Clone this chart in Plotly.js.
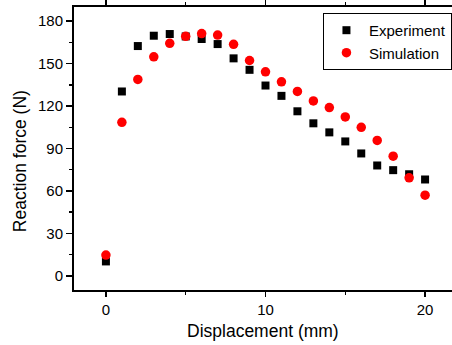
<!DOCTYPE html>
<html>
<head>
<meta charset="utf-8">
<script src="https://cdn.plot.ly/plotly-3.0.1.min.js"></script>
<style>
html,body{margin:0;padding:0;width:452px;height:345px;overflow:hidden;background:#fff;}
#chart{width:460px;height:345px;}
</style>
</head>
<body>
<div id="chart"></div>
<script>
var displacement = [0,1,2,3,4,5,6,7,8,9,10,11,12,13,14,15,16,17,18,19,20];
var experiment = [10.2,130.3,162.4,169.7,170.9,169.2,167.4,163.8,153.7,145.6,134.5,127.2,116.3,107.8,101.4,95.0,86.5,78.0,74.7,71.8,68.1];
var simulation = [14.7,108.5,138.8,154.8,164.3,169.3,171.2,170.2,163.6,152.2,144.2,137.1,130.3,123.6,118.9,112.3,105.0,95.7,84.6,69.3,57.0];
var seriesNames = ["Experiment","Simulation"];
var xTitle = "Displacement (mm)";
var yTitle = "Reaction force (N)";

var font = "Arial, 'Liberation Sans', sans-serif";

var traces = [
  {x: displacement, y: experiment, name: seriesNames[0], type: "scatter", mode: "markers",
   marker: {symbol: "square", size: 8, color: "#000000"}},
  {x: displacement, y: simulation, name: seriesNames[1], type: "scatter", mode: "markers",
   marker: {symbol: "circle", size: 9.5, color: "#ff0000"}}
];

var layout = {
  width: 460, height: 345,
  margin: {l: 74, r: 3, t: 7, b: 55},
  paper_bgcolor: "#ffffff", plot_bgcolor: "#ffffff",
  font: {family: font, size: 15, color: "#000"},
  showlegend: true,
  legend: {x: 0.650, y: 0.979, xanchor: "left", yanchor: "top",
           bordercolor: "#000", borderwidth: 1, bgcolor: "#fff",
           font: {family: font, size: 15, color: "#000"},
           tracegroupgap: 0, itemwidth: 35},
  xaxis: {
    range: [-2, 22], tickmode: "array", tickvals: [0,10,20], ticktext: ["0","10","20"],
    ticks: "outside", ticklen: 5, tickwidth: 1.5, tickcolor: "#000",
    minor: {tickvals: [5,15], ticks: "outside", ticklen: 3, tickwidth: 1.5, tickcolor: "#000"},
    showline: true, linewidth: 2, linecolor: "#000", mirror: "ticks",
    showgrid: false, zeroline: false,
    tickfont: {family: font, size: 15, color: "#000"}
  },
  yaxis: {
    range: [-10, 190], tickmode: "array", tickvals: [0,30,60,90,120,150,180],
    ticks: "outside", ticklen: 6, tickwidth: 1.5, tickcolor: "#000",
    minor: {tickvals: [15,45,75,105,135,165], ticks: "outside", ticklen: 3, tickwidth: 1.5, tickcolor: "#000"},
    showline: true, linewidth: 2, linecolor: "#000", mirror: "ticks",
    showgrid: false, zeroline: false,
    tickfont: {family: font, size: 15, color: "#000"}
  },
  annotations: [
    {text: xTitle, xref: "paper", yref: "paper", x: 0.4945, y: -0.145, xanchor: "center", yanchor: "middle",
     showarrow: false, font: {family: font, size: 17.5, color: "#000"}},
    {text: yTitle, xref: "paper", yref: "paper", x: -0.1405, y: 0.456, xanchor: "center", yanchor: "middle",
     textangle: -90, showarrow: false, font: {family: font, size: 17.5, color: "#000"}}
  ]
};

Plotly.newPlot("chart", traces, layout, {displayModeBar: false, staticPlot: true});
</script>
</body>
</html>
